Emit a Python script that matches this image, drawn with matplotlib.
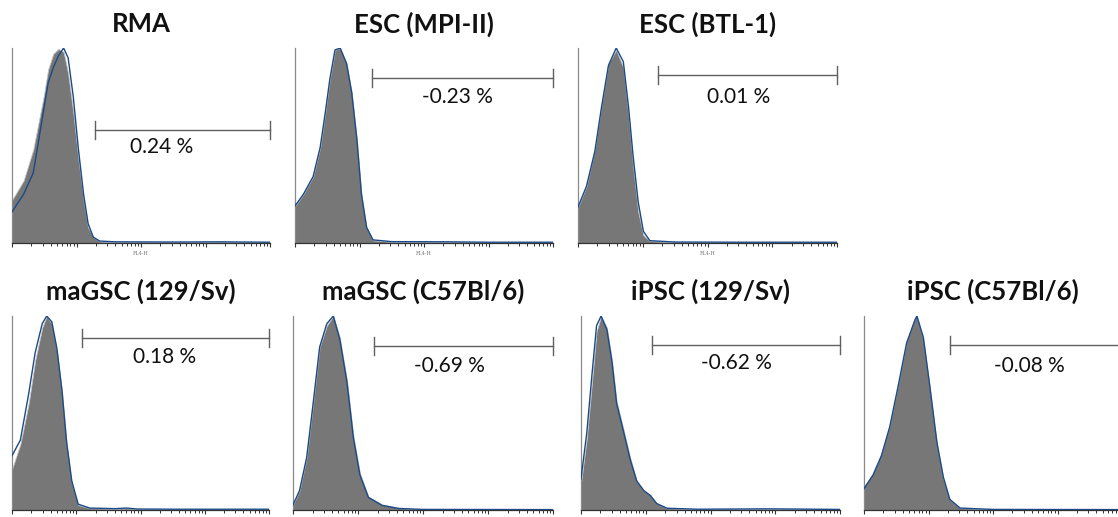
import numpy as np
import matplotlib
matplotlib.use("Agg")
import matplotlib.pyplot as plt

# ---------------- data (x in log10 decades of FL4-H, heights normalised) -------------
titles = ["RMA", "ESC (MPI-II)", "ESC (BTL-1)", "maGSC (129/Sv)",
          "maGSC (C57Bl/6)", "iPSC (129/Sv)", "iPSC (C57Bl/6)"]
percent_labels = ["0.24 %", "-0.23 %", "0.01 %", "0.18 %", "-0.69 %", "-0.62 %", "-0.08 %"]
gate_start_dec = [1.29, 1.19, 1.24, 1.09, 1.24, 1.10, 1.33]
gate_end_dec = [4.0, 4.0, 4.0, 4.0, 4.0, 4.0, 4.0]

rma_x = [0.0, 0.18, 0.33, 0.49, 0.56, 0.64, 0.72, 0.80, 0.87, 0.95, 1.03, 1.11, 1.18, 1.26, 1.36, 1.6, 2.5, 3.2, 4.0]
rma_grey = [0.22, 0.32, 0.48, 0.75, 0.89, 0.97, 0.995, 0.98, 0.87, 0.67, 0.43, 0.22, 0.08, 0.03, 0.008, 0.005, 0.004, 0.005, 0.003]
rma_blue = [0.16, 0.25, 0.36, 0.68, 0.82, 0.90, 0.96, 1.0, 0.95, 0.75, 0.48, 0.25, 0.10, 0.03, 0.01, 0.006, 0.005, 0.006, 0.004]

mpi_x = [0.0, 0.13, 0.28, 0.39, 0.47, 0.54, 0.62, 0.70, 0.80, 0.88, 0.96, 1.03, 1.11, 1.21, 1.5, 2.35, 3.0, 4.0]
mpi_grey = [0.19, 0.25, 0.34, 0.49, 0.67, 0.84, 0.99, 1.0, 0.92, 0.77, 0.53, 0.25, 0.08, 0.014, 0.006, 0.005, 0.003, 0.003]
mpi_blue = [0.19, 0.25, 0.34, 0.49, 0.67, 0.84, 0.99, 1.0, 0.92, 0.77, 0.53, 0.25, 0.08, 0.016, 0.007, 0.006, 0.004, 0.004]

btl_x = [0.0, 0.13, 0.26, 0.36, 0.47, 0.59, 0.70, 0.78, 0.85, 0.93, 1.01, 1.11, 1.5, 2.5, 4.0]
btl_grey = [0.185, 0.29, 0.48, 0.70, 0.92, 0.99, 0.90, 0.66, 0.40, 0.16, 0.04, 0.01, 0.004, 0.003, 0.003]
btl_blue = [0.185, 0.29, 0.47, 0.69, 0.91, 1.0, 0.93, 0.70, 0.45, 0.21, 0.06, 0.012, 0.005, 0.004, 0.004]

g129_x = [0.0, 0.13, 0.26, 0.36, 0.47, 0.54, 0.62, 0.70, 0.78, 0.85, 0.93, 1.03, 1.21, 1.6, 1.78, 1.95, 2.6, 4.0]
g129_grey = [0.21, 0.34, 0.55, 0.77, 0.94, 1.0, 0.96, 0.82, 0.60, 0.34, 0.14, 0.026, 0.009, 0.006, 0.008, 0.004, 0.003, 0.003]
g129_blue = [0.28, 0.36, 0.60, 0.81, 0.96, 1.0, 0.97, 0.83, 0.61, 0.35, 0.15, 0.03, 0.01, 0.007, 0.01, 0.005, 0.004, 0.004]

gc57_x = [0.0, 0.10, 0.21, 0.31, 0.41, 0.52, 0.62, 0.72, 0.83, 0.93, 1.03, 1.16, 1.37, 1.63, 2.0, 4.0]
gc57_grey = [0.026, 0.10, 0.27, 0.55, 0.84, 0.95, 1.0, 0.89, 0.67, 0.38, 0.19, 0.07, 0.028, 0.01, 0.003, 0.002]
gc57_blue = [0.026, 0.10, 0.27, 0.55, 0.84, 0.96, 1.0, 0.88, 0.66, 0.37, 0.18, 0.065, 0.024, 0.008, 0.003, 0.002]

i129_x = [0.0, 0.09, 0.17, 0.24, 0.31, 0.40, 0.48, 0.55, 0.66, 0.76, 0.86, 0.97, 1.07, 1.17, 1.33, 1.8, 2.9, 4.0]
i129_grey = [0.14, 0.37, 0.66, 0.92, 1.0, 0.94, 0.77, 0.56, 0.41, 0.27, 0.15, 0.10, 0.077, 0.034, 0.009, 0.004, 0.004, 0.003]
i129_blue = [0.16, 0.40, 0.70, 0.95, 1.0, 0.93, 0.76, 0.55, 0.40, 0.26, 0.15, 0.10, 0.075, 0.033, 0.009, 0.004, 0.006, 0.003]

ic57_x = [0.0, 0.14, 0.27, 0.40, 0.53, 0.66, 0.79, 0.82, 0.92, 1.02, 1.13, 1.23, 1.33, 1.49, 2.0, 4.0]
ic57_grey = [0.12, 0.19, 0.29, 0.44, 0.65, 0.87, 0.99, 1.0, 0.88, 0.63, 0.34, 0.16, 0.054, 0.01, 0.003, 0.002]
ic57_blue = [0.11, 0.18, 0.28, 0.43, 0.64, 0.86, 0.98, 1.0, 0.89, 0.64, 0.35, 0.17, 0.055, 0.01, 0.003, 0.002]

hist_x = [rma_x, mpi_x, btl_x, g129_x, gc57_x, i129_x, ic57_x]
hist_grey = [rma_grey, mpi_grey, btl_grey, g129_grey, gc57_grey, i129_grey, ic57_grey]
hist_blue = [rma_blue, mpi_blue, btl_blue, g129_blue, gc57_blue, i129_blue, ic57_blue]
axis_label = "FL4-H"

# ---------------- layout (pixels of a 1118x517 canvas) ----------------
W, H = 1118, 517
axes_px = [  # left, top, width, height
    (12, 48, 258, 195), (295, 48, 258, 195), (578, 48, 259, 195),
    (12, 316, 257, 194), (293, 316, 260, 194), (581, 316, 259, 194), (864, 316, 258, 194),
]
title_y_px = [24, 24, 24, 291, 291, 291, 291]
gate_y_frac = [0.58, 0.846, 0.86, 0.887, 0.846, 0.851, 0.851]
label_pos = [(0.58, 0.49), (0.63, 0.75), (0.62, 0.75), (0.595, 0.79),
             (0.60, 0.74), (0.60, 0.76), (0.64, 0.74)]
show_axis_label = [True, True, True, False, False, False, False]

GREY = "#777777"
BLUE = "#1b4a86"

fig = plt.figure(figsize=(W / 100, H / 100), dpi=100)

for i in range(7):
    l, t, w, h = axes_px[i]
    ax = fig.add_axes([l / W, 1 - (t + h) / H, w / W, h / H])
    xs = 10 ** np.asarray(hist_x[i])
    ax.fill_between(xs, 0, hist_grey[i], color=GREY, edgecolor="#c4c4c4", linewidth=0.6, zorder=2)
    ax.plot(xs, hist_blue[i], color=BLUE, lw=1.0, zorder=3)
    ax.set_xscale("log")
    ax.set_xlim(1, 1e4)
    ax.set_ylim(0, 1.0)
    for s in ("top", "right"):
        ax.spines[s].set_visible(False)
    ax.spines["left"].set_color("#8a8a8a")
    ax.spines["left"].set_linewidth(0.9)
    ax.spines["bottom"].set_color("#333333")
    ax.spines["bottom"].set_linewidth(0.9)
    ax.set_yticks([])
    ax.tick_params(axis="x", which="major", direction="out", length=3, width=0.8,
                   color="#333333", labelbottom=False)
    ax.tick_params(axis="x", which="minor", direction="out", length=2, width=0.7,
                   color="#333333", labelbottom=False)
    if show_axis_label[i]:
        ax.set_xlabel(axis_label, fontsize=3.5, color="#777777", labelpad=3, family="DejaVu Serif")

    # gate marker
    gy = gate_y_frac[i]
    x0, x1 = 10 ** gate_start_dec[i], 10 ** gate_end_dec[i]
    trans = ax.get_xaxis_transform()
    ax.plot([x0, x1], [gy, gy], color="#606060", lw=1.0, transform=trans, clip_on=False, zorder=4)
    for xe in (x0, x1):
        ax.plot([xe, xe], [gy - 0.046, gy + 0.046], color="#606060", lw=1.0,
                transform=trans, clip_on=False, zorder=4)
    lx, ly = label_pos[i]
    ax.text(lx, ly, percent_labels[i], transform=ax.transAxes, ha="center", va="center",
            fontsize=15, family="Lato", color="#111111")

    fig.text((l + w / 2) / W, 1 - title_y_px[i] / H, titles[i], ha="center", va="center",
             fontsize=18.5, fontweight="bold", family="Lato", color="#111111")

fig.savefig("out.png", dpi=100)
